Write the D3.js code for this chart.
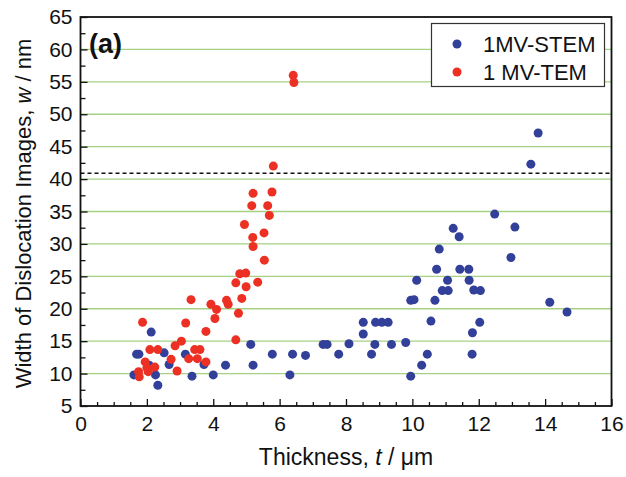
<!DOCTYPE html>
<html>
<head>
<meta charset="utf-8">
<script src="https://cdn.jsdelivr.net/npm/d3@7"></script>
<style>
  body { margin: 0; background: #fff; }
  text { font-family: Arial, "Liberation Sans", sans-serif; fill: #111; }
</style>
</head>
<body>
<div id="viz"></div>
<script>
// 1MV-STEM points: [thickness (um), width (nm)]
var stem = [
  [1.61, 9.8], [1.69, 13.0], [1.76, 13.0], [2.07, 11.3], [2.13, 16.4], [2.26, 9.8],
  [2.33, 8.2], [2.52, 13.2], [2.67, 11.4], [3.16, 13.0], [3.36, 9.6], [3.72, 11.4],
  [4.0, 9.8], [4.37, 11.3], [5.13, 14.5], [5.2, 11.3], [5.78, 13.0], [6.31, 9.8],
  [6.39, 13.0], [6.78, 12.8], [7.31, 14.5], [7.43, 14.5], [7.78, 13.0], [8.09, 14.6],
  [8.52, 17.9], [8.52, 16.1], [8.77, 13.0], [8.87, 14.5], [8.89, 17.9], [9.08, 17.9],
  [9.27, 17.9], [9.37, 14.5], [9.8, 14.8], [9.95, 9.6], [9.95, 21.3], [10.05, 21.4],
  [10.13, 24.4], [10.28, 11.3], [10.45, 13.0], [10.56, 18.1], [10.68, 21.3], [10.73, 26.1],
  [10.81, 29.2], [10.9, 22.8], [11.06, 24.4], [11.08, 22.8], [11.23, 32.4], [11.41, 31.1],
  [11.43, 26.1], [11.7, 26.1], [11.71, 24.4], [11.8, 13.0], [11.81, 16.3], [11.85, 22.9],
  [12.03, 17.9], [12.05, 22.8], [12.48, 34.6], [12.97, 27.9], [13.09, 32.6], [13.57, 42.3],
  [13.79, 47.1], [14.14, 21.0], [14.66, 19.5]
];
// 1 MV-TEM points
var tem = [
  [1.75, 10.3], [1.77, 9.5], [1.87, 17.9], [1.95, 11.8], [2.0, 10.9], [2.04, 10.3],
  [2.09, 13.7], [2.24, 11.0], [2.33, 13.7], [2.73, 12.2], [2.85, 14.3], [2.91, 10.4],
  [3.04, 15.0], [3.17, 17.8], [3.26, 12.3], [3.33, 21.4], [3.44, 13.7], [3.52, 12.3],
  [3.6, 13.7], [3.78, 11.8], [3.78, 16.5], [3.93, 20.7], [4.05, 18.5], [4.1, 19.9],
  [4.4, 21.3], [4.45, 20.7], [4.68, 15.2], [4.68, 24.0], [4.76, 19.3], [4.8, 25.4],
  [4.86, 21.6], [4.94, 33.0], [4.98, 25.5], [4.99, 23.4], [5.16, 35.9], [5.19, 31.0],
  [5.2, 29.6], [5.2, 37.8], [5.34, 24.1], [5.53, 31.7], [5.54, 27.5], [5.64, 35.9],
  [5.69, 34.4], [5.77, 38.0], [5.81, 42.0], [6.41, 56.0], [6.43, 54.9]
];
var xTicks = [0, 2, 4, 6, 8, 10, 12, 14, 16];
var yTicks = [5, 10, 15, 20, 25, 30, 35, 40, 45, 50, 55, 60, 65];
var gridVals = [10, 15, 20, 25, 30, 35, 40, 45, 50, 55, 60];
var limitLine = 40.9;
var seriesNames = ["1MV-STEM", "1 MV-TEM"];
var seriesColors = ["#33409a", "#ec3023"];

var W = 626, H = 477;
var pL = 80.5, pR = 611.5, pT = 17, pB = 406;

var svg = d3.select("#viz").append("svg")
  .attr("width", W).attr("height", H);

var x = d3.scaleLinear().domain([0, 16]).range([pL, pR]);
var y = d3.scaleLinear().domain([5, 65]).range([pB, pT]);

// green gridlines
svg.append("g").selectAll("line").data(gridVals).enter().append("line")
  .attr("x1", pL).attr("x2", pR)
  .attr("y1", function(d) { return y(d); })
  .attr("y2", function(d) { return y(d); })
  .style("stroke", "#a6d184").style("stroke-width", 1.3);

// dashed limit
svg.append("line")
  .attr("x1", pL).attr("x2", pR)
  .attr("y1", y(limitLine)).attr("y2", y(limitLine))
  .style("stroke", "#111").style("stroke-width", 1.6)
  .style("stroke-dasharray", "4,3");

// points
var sets = [stem, tem];
sets.forEach(function(s, i) {
  svg.append("g").selectAll("circle").data(s).enter().append("circle")
    .attr("cx", function(d) { return x(d[0]); })
    .attr("cy", function(d) { return y(d[1]); })
    .attr("r", 4.5)
    .style("fill", seriesColors[i]);
});

// minor ticks
var xMinor = d3.range(0, 16.01, 0.5).filter(function(v) { return v % 2 !== 0; });
var yMinor = d3.range(7.5, 65, 5);

svg.append("g").attr("transform", "translate(0," + pB + ")")
  .call(d3.axisBottom(x).tickValues(xMinor).tickSize(-4).tickFormat(""))
  .call(function(g) { g.select(".domain").remove(); });
svg.append("g").attr("transform", "translate(" + pL + ",0)")
  .call(d3.axisLeft(y).tickValues(yMinor).tickSize(-5).tickFormat(""))
  .call(function(g) { g.select(".domain").remove(); });

// major axes
var xAxis = svg.append("g").attr("transform", "translate(0," + pB + ")")
  .call(d3.axisBottom(x).tickValues(xTicks).tickSize(-7).tickPadding(10).tickFormat(d3.format("d")));
var yAxis = svg.append("g").attr("transform", "translate(" + pL + ",0)")
  .call(d3.axisLeft(y).tickValues(yTicks).tickSize(-7).tickPadding(8).tickFormat(d3.format("d")));
[xAxis, yAxis].forEach(function(g) {
  g.selectAll(".domain").remove();
  g.selectAll("text").style("font-size", "21px").style("font-family", "Arial, 'Liberation Sans', sans-serif").style("fill", "#111");
});
svg.selectAll(".tick line").style("stroke", "#111").style("stroke-width", 1.3);

// frame
svg.append("rect")
  .attr("x", pL).attr("y", pT)
  .attr("width", pR - pL).attr("height", pB - pT)
  .style("fill", "none").style("stroke", "#111").style("stroke-width", 1.8);

// axis titles
var xt = svg.append("text")
  .attr("x", (pL + pR) / 2).attr("y", 465)
  .style("text-anchor", "middle").style("font-size", "23px");
xt.append("tspan").text("Thickness, ");
xt.append("tspan").style("font-style", "italic").text("t");
xt.append("tspan").text(" / \u03bcm");

var yt = svg.append("text")
  .attr("transform", "translate(31," + ((pT + pB) / 2 + 2) + ") rotate(-90)")
  .style("text-anchor", "middle").style("font-size", "22px");
yt.append("tspan").text("Width of Dislocation Images, ");
yt.append("tspan").style("font-style", "italic").text("w");
yt.append("tspan").text(" / nm");

// panel label
svg.append("text")
  .attr("x", 89).attr("y", 53)
  .style("font-size", "27px").style("font-weight", "bold")
  .text("(a)");

// legend
svg.append("rect")
  .attr("x", 431.5).attr("y", 23.5).attr("width", 173).attr("height", 63)
  .style("fill", "#fff").style("stroke", "#333").style("stroke-width", 1.2);
seriesNames.forEach(function(n, i) {
  svg.append("circle")
    .attr("cx", 457).attr("cy", 44 + i * 28).attr("r", 4.5)
    .style("fill", seriesColors[i]);
  svg.append("text")
    .attr("x", 483).attr("y", 52 + i * 28)
    .style("font-size", "22px")
    .text(n);
});
</script>
</body>
</html>
